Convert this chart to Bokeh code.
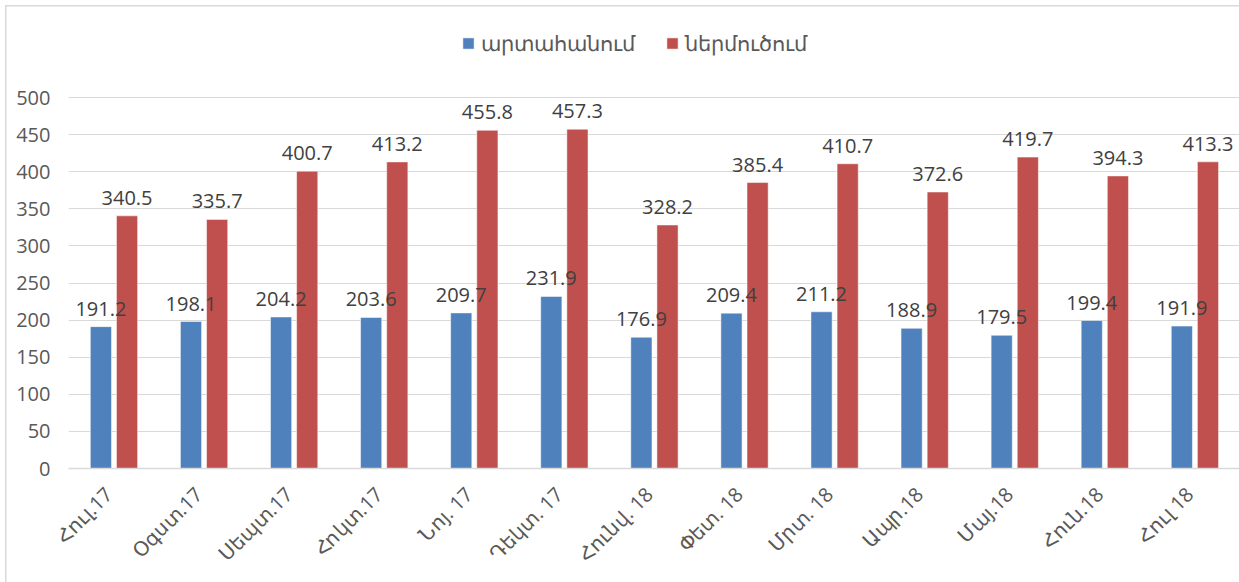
from bokeh.plotting import figure
from bokeh.models import (ColumnDataSource, Legend, LegendItem, FixedTicker,
                          Range1d, LinearAxis)
from bokeh.transform import dodge
from bokeh.core.properties import value
from bokeh.embed import file_html
from bokeh.resources import INLINE
import math

months = ["Հուլ.17", "Օգստ.17", "Սեպտ.17", "Հոկտ.17", "Նոյ. 17", "Դեկտ. 17",
          "Հունվ. 18", "Փետ. 18", "Մրտ. 18", "Ապր.18", "Մայ.18", "Հուն.18", "Հուլ 18"]
exports = [191.2, 198.1, 204.2, 203.6, 209.7, 231.9, 176.9, 209.4, 211.2, 188.9, 179.5, 199.4, 191.9]
imports = [340.5, 335.7, 400.7, 413.2, 455.8, 457.3, 328.2, 385.4, 410.7, 372.6, 419.7, 394.3, 413.3]
series_names = ["արտահանում", "ներմուծում"]
y_ticks = [0, 50, 100, 150, 200, 250, 300, 350, 400, 450, 500]

pos = [i + 0.5 for i in range(len(months))]  # category slot centres
src = ColumnDataSource(dict(
    x=pos, ex=exports, im=imports,
    exl=[f"{v:.1f}" for v in exports],
    iml=[f"{v:.1f}" for v in imports],
))

FONT = "Open Sans"
TXT = "#595959"
BLUE = "#4f81bd"
RED = "#c0504d"
GRID = "#d9d9d9"

px_per_unit = 371 / 500
y_top = 500 + (97 - 7) / px_per_unit

p = figure(width=1239, height=582, x_range=Range1d(0, len(months)), y_range=(0, y_top),
           output_backend="svg", toolbar_location=None,
           min_border_left=68, min_border_right=0, min_border_top=7, min_border_bottom=114)
p.outline_line_color = None
p.background_fill_color = "white"
p.border_fill_color = None
p.styles = {
    "background-color": "white",
    "background-image": f"linear-gradient({GRID},{GRID}), linear-gradient({GRID},{GRID})",
    "background-size": "1.5px 100%, 100% 1.5px",
    "background-position": "5px 5px, 5px 5px",
    "background-repeat": "no-repeat",
}

r1 = p.vbar(x=dodge("x", -0.14), top="ex", width=0.235, source=src,
            fill_color=BLUE, line_color="#ffffff", line_width=0.5)
r2 = p.vbar(x=dodge("x", 0.15), top="im", width=0.235, source=src,
            fill_color=RED, line_color="#ffffff", line_width=0.5)

for col, lab, off in (("ex", "exl", -0.14), ("im", "iml", 0.15)):
    p.text(x=dodge("x", off), y=col, text=lab, source=src,
           text_align="center", text_baseline="alphabetic", y_offset=-18,
           text_font=value(FONT), text_font_size="20px", text_color="#404040")

p.yaxis.ticker = FixedTicker(ticks=y_ticks)
p.ygrid.ticker = FixedTicker(ticks=y_ticks)
p.ygrid.grid_line_color = GRID
p.ygrid.grid_line_width = 1
p.xgrid.grid_line_color = None

p.yaxis.axis_line_color = None
p.yaxis.major_tick_line_color = None
p.yaxis.minor_tick_line_color = None
p.yaxis.major_label_standoff = 12
p.yaxis.major_label_text_font = FONT
p.yaxis.major_label_text_font_size = "20px"
p.yaxis.major_label_text_color = TXT

# category labels on a slightly shifted helper range so that rotated labels end near the bar centres
p.xaxis.visible = False
shift = 0.055
p.extra_x_ranges = {"lab": Range1d(start=shift, end=len(months) + shift)}
xax = LinearAxis(x_range_name="lab", ticker=FixedTicker(ticks=pos),
                 major_label_overrides={t: m for t, m in zip(pos, months)})
xax.axis_line_color = GRID
xax.axis_line_width = 1.5
xax.major_tick_line_color = None
xax.minor_tick_line_color = None
xax.major_tick_out = 0
xax.major_tick_in = 0
xax.minor_tick_out = 0
xax.minor_tick_in = 0
xax.major_label_orientation = math.pi / 4
xax.major_label_standoff = 22
xax.major_label_text_font = FONT
xax.major_label_text_font_size = "20px"
xax.major_label_text_color = TXT
p.add_layout(xax, "below")

legend = Legend(items=[LegendItem(label=series_names[0], renderers=[r1]),
                       LegendItem(label=series_names[1], renderers=[r2])],
                orientation="horizontal", location=(393, 411),
                label_text_font=FONT, label_text_font_size="21px", label_text_color=TXT,
                glyph_width=14, glyph_height=14, label_standoff=6, spacing=30,
                padding=0, margin=0, border_line_color=None, background_fill_alpha=0)
p.add_layout(legend, "center")

open("out.html", "w").write(file_html(p, INLINE))
